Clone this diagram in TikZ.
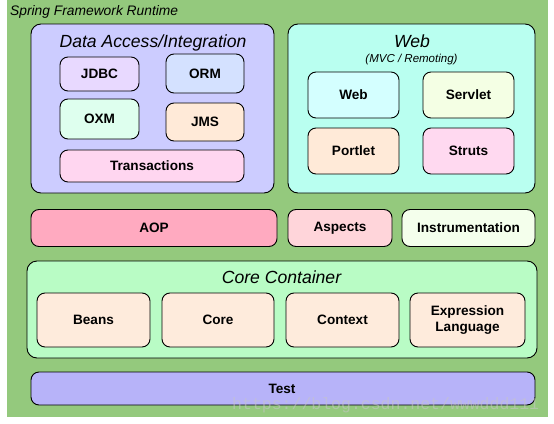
\documentclass[tikz,border=0pt]{standalone}
\usepackage{fontspec}
\setmainfont{Liberation Sans}
\newfontfamily\wmfont{Liberation Mono}
\definecolor{bggreen}{RGB}{148,201,125}
\definecolor{dacol}{RGB}{204,204,255}
\definecolor{jdbccol}{RGB}{232,217,255}
\definecolor{ormcol}{RGB}{212,225,255}
\definecolor{oxmcol}{RGB}{222,255,238}
\definecolor{peach}{RGB}{255,234,216}
\definecolor{transcol}{RGB}{255,214,240}
\definecolor{webcol}{RGB}{185,255,240}
\definecolor{webicol}{RGB}{212,255,255}
\definecolor{servcol}{RGB}{244,255,228}
\definecolor{strutscol}{RGB}{255,217,240}
\definecolor{aopcol}{RGB}{255,170,192}
\definecolor{aspcol}{RGB}{255,213,218}
\definecolor{instcol}{RGB}{244,255,236}
\definecolor{cccol}{RGB}{185,252,197}
\definecolor{beancol}{RGB}{254,235,220}
\definecolor{testcol}{RGB}{183,179,249}
\tikzset{
  box/.style={draw=black, line width=0.9pt, rounded corners=8pt, inner sep=0pt,
    font=\fontsize{13.6}{17}\selectfont\bfseries, align=center},
  bigbox/.style={draw=black, line width=0.9pt, rounded corners=10pt, inner sep=0pt},
  title/.style={font=\fontsize{17.6}{20}\selectfont\itshape, inner sep=0pt, anchor=base},
  lbl/.style={font=\fontsize{13.6}{17}\selectfont\bfseries, inner sep=0pt},
}
\begin{document}
\begin{tikzpicture}[x=1pt,y=-1pt]
\useasboundingbox (0,0) rectangle (554,423);
\fill[bggreen] (7,0) rectangle (548,417);
\node[font=\fontsize{13.8}{16}\selectfont\itshape, inner sep=0pt, anchor=base west] (runtime) at (10,15) {Spring Framework Runtime};

% Data access
\node[bigbox, fill=dacol, minimum width=243pt, minimum height=169pt] (da) at (152.5,108.5) {};
\node[title] (datitle) at (153,47) {Data Access/Integration};
\node[box, fill=jdbccol, minimum width=79pt, minimum height=34pt] (jdbc) at (99.5,74) {JDBC};
\node[box, fill=ormcol, minimum width=78pt, minimum height=39pt] (orm) at (205,73.5) {ORM};
\node[box, fill=oxmcol, minimum width=79pt, minimum height=40pt] (oxm) at (99.5,119) {OXM};
\node[box, fill=peach, minimum width=78pt, minimum height=38pt] (jms) at (205,122) {JMS};
\node[box, fill=transcol, minimum width=184pt, minimum height=32pt] (trans) at (152,166) {Transactions};

% Web
\node[bigbox, fill=webcol, minimum width=247pt, minimum height=169pt] (web) at (411.5,108.5) {};
\node[title] (webtitle) at (412,47) {Web};
\node[font=\fontsize{11.5}{13}\selectfont\itshape, inner sep=0pt, anchor=base] (websub) at (411.5,62) {(MVC / Remoting)};
\node[box, fill=webicol, minimum width=91pt, minimum height=46pt] (webi) at (353.5,95) {Web};
\node[box, fill=servcol, minimum width=91pt, minimum height=46pt] (servlet) at (468.5,95) {Servlet};
\node[box, fill=peach, minimum width=91pt, minimum height=46pt] (portlet) at (353.5,151) {Portlet};
\node[box, fill=strutscol, minimum width=91pt, minimum height=46pt] (struts) at (468.5,151) {Struts};

% AOP row
\node[box, fill=aopcol, minimum width=246pt, minimum height=37pt] (aop) at (154,228) {AOP};
\node[box, fill=aspcol, minimum width=104pt, minimum height=37pt] (aspects) at (340,228) {Aspects};
\node[box, fill=instcol, minimum width=133pt, minimum height=37pt] (instr) at (468.5,228) {Instrumentation};

% Core container
\node[bigbox, fill=cccol, minimum width=510pt, minimum height=97pt] (cc) at (282,309.5) {};
\node[title] (cctitle) at (281.5,283) {Core Container};
\node[box, fill=beancol, minimum width=113pt, minimum height=54pt] (beans) at (93.5,320) {Beans};
\node[box, fill=beancol, minimum width=112pt, minimum height=54pt] (core) at (218,320) {Core};
\node[box, fill=beancol, minimum width=113pt, minimum height=54pt] (context) at (342.5,320) {Context};
\node[box, fill=beancol, minimum width=115pt, minimum height=54pt] (el) at (467.5,320) {Expression\\[-1pt]Language};

% Test
\node[bigbox, rounded corners=8pt, fill=testcol, minimum width=504pt, minimum height=33pt] (test) at (283,388.5) {};
\node[lbl] (testlbl) at (282,388.5) {Test};

% watermark
\node[font=\wmfont\fontsize{16.5}{18}\selectfont, text=gray!45!white, text opacity=0.55, inner sep=0pt, anchor=base west] (wm) at (232,409) {https://blog.csdn.net/wwwddd111};
\end{tikzpicture}
\end{document}
